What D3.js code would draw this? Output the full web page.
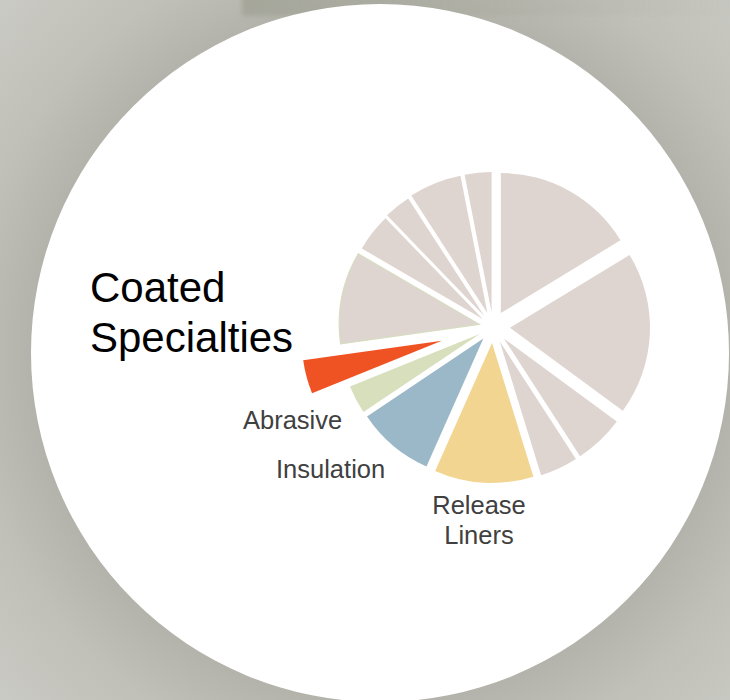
<!DOCTYPE html>
<html>
<head>
<meta charset="utf-8">
<script src="https://cdn.jsdelivr.net/npm/d3@7/dist/d3.min.js"></script>
<style>
  html, body { margin: 0; padding: 0; background: #c4c4bd; }
  svg { display: block; }
</style>
</head>
<body>
<svg id="chart" width="730" height="700"></svg>
<script>
// Segment shares (%), clockwise from 12 o'clock
const segments = [
  "Segment A", "Segment B", "Segment C", "Segment D",
  "Release Liners", "Insulation", "Abrasive", "Coated Specialties",
  "Segment E", "Segment F", "Segment G", "Segment H", "Segment I"
];
const shares = [16.4, 18.9, 5.8, 4.4, 11.5, 9.0, 3.3, 3.9, 10.7, 4.4, 3.1, 6.1, 3.1];
const fills = [
  "#ded4d0", "#ded4d0", "#ded4d0", "#ded4d0",
  "#f2d591", "#9bb8c9", "#d8dfbd", "#f05323",
  "#ded4d0", "#ded4d0", "#ded4d0", "#ded4d0", "#ded4d0"
];
// Explode distance of each wedge
const explode = [16, 17, 16, 16, 16, 15, 15, 53, 14, 13, 14, 15, 15];

const svg = d3.select("#chart");
const W = 730, H = 700;
const defs = svg.append("defs");

// Backdrop: grey with slightly darker shading around the disc
const bg = defs.append("radialGradient").attr("id", "bgShade")
  .attr("gradientUnits", "userSpaceOnUse")
  .attr("cx", 380).attr("cy", 353).attr("r", 520);
bg.append("stop").attr("offset", "0.67").attr("stop-color", "#b3b3ab");
bg.append("stop").attr("offset", "0.8").attr("stop-color", "#c0c0b9");
bg.append("stop").attr("offset", "1").attr("stop-color", "#cbcbc5");
svg.append("rect").attr("width", W).attr("height", H).attr("fill", "url(#bgShade)");

// faint dark strip along the top edge
const strip = defs.append("linearGradient").attr("id", "topStrip")
  .attr("x1", 0).attr("x2", 1).attr("y1", 0).attr("y2", 0);
strip.append("stop").attr("offset", "0").attr("stop-color", "#a2a397").attr("stop-opacity", 0.85);
strip.append("stop").attr("offset", "0.45").attr("stop-color", "#a8a99d").attr("stop-opacity", 0.5);
strip.append("stop").attr("offset", "1").attr("stop-color", "#b8b9ae").attr("stop-opacity", 0.1);
const blur = defs.append("filter").attr("id", "soft").attr("x", "-10%").attr("y", "-50%")
  .attr("width", "120%").attr("height", "200%");
blur.append("feGaussianBlur").attr("stdDeviation", 2.5);
svg.append("rect").attr("x", 242).attr("y", -10).attr("width", 500).attr("height", 26)
  .attr("fill", "url(#topStrip)").attr("filter", "url(#soft)");

// white disc
svg.append("circle").attr("cx", 380).attr("cy", 353).attr("r", 349).attr("fill", "#ffffff");

// Pie
const cx = 493, cy = 327, R = 140;
const pie = d3.pie().sort(null).value(d => d.v).startAngle(0).endAngle(2 * Math.PI);
const arc = d3.arc().innerRadius(0).outerRadius(R);
const data = shares.map((v, i) => ({ name: segments[i], v, fill: fills[i], off: explode[i] }));

const g = svg.append("g").attr("transform", `translate(${cx},${cy})`);
g.selectAll("path").data(pie(data)).join("path")
  .attr("d", arc)
  .attr("transform", d => {
    const m = (d.startAngle + d.endAngle) / 2;
    return `translate(${Math.sin(m) * d.data.off},${-Math.cos(m) * d.data.off})`;
  })
  .attr("fill", d => d.data.fill)
  .attr("stroke", (d, i) => i === 8 ? "#d7ddc0" : "none")
  .attr("stroke-width", 1.2);

// Labels
const font = "Liberation Sans, Arial, Helvetica, sans-serif";
const big = svg.append("text").attr("font-family", font).attr("font-size", 42).attr("fill", "#000");
big.append("tspan").attr("x", 90).attr("y", 302).text("Coated");
big.append("tspan").attr("x", 90).attr("y", 352).text("Specialties");

const small = [
  { lines: ["Abrasive"], x: 243, y: 429, anchor: "start" },
  { lines: ["Insulation"], x: 276, y: 478, anchor: "start" },
  { lines: ["Release", "Liners"], x: 479, y: 514, anchor: "middle" }
];
small.forEach(l => {
  const t = svg.append("text").attr("font-family", font).attr("font-size", 25.5)
    .attr("fill", "#404040").attr("text-anchor", l.anchor);
  l.lines.forEach((s, k) => t.append("tspan").attr("x", l.x).attr("y", l.y + k * 30).text(s));
});
</script>
</body>
</html>
